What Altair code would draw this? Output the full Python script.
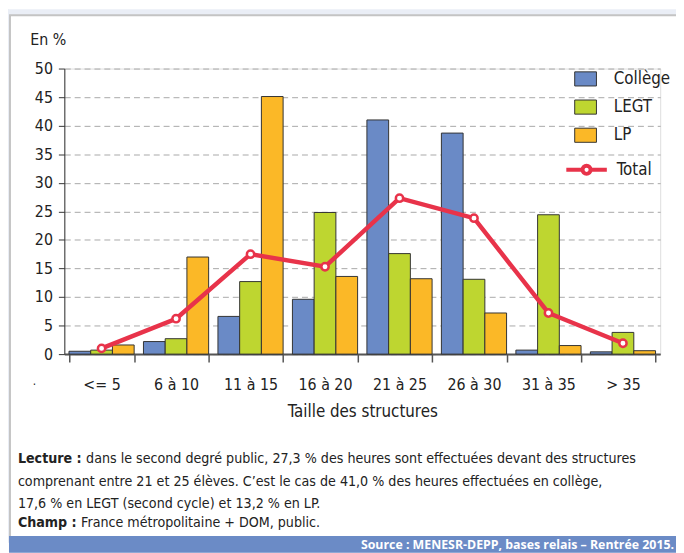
import altair as alt
import pandas as pd

categories = ["<= 5", "6 à 10", "11 à 15", "16 à 20", "21 à 25", "26 à 30", "31 à 35", "> 35"]
college = [0.5, 2.2, 6.6, 9.6, 41.0, 38.7, 0.7, 0.4]
legt = [0.7, 2.7, 12.7, 24.8, 17.6, 13.1, 24.4, 3.8]
lp = [1.6, 17.0, 45.1, 13.6, 13.2, 7.2, 1.5, 0.6]
total = [1.0, 6.2, 17.5, 15.3, 27.3, 23.8, 7.2, 1.9]
series = ["Collège", "LEGT", "LP"]
series_colors = ["#6a8ac6", "#bed630", "#fbb827"]
total_name = ["Total"]
total_color = ["#e8334a"]
y_ticks = list(range(0, 55, 5))

note_lines = [
    "comprenant entre 21 et 25 élèves. C’est le cas de 41,0 % des heures effectuées en collège,",
    "17,6 % en LEGT (second cycle) et 13,2 % en LP.",
]
lecture_head = "Lecture :"
lecture_text = "dans le second degré public, 27,3 % des heures sont effectuées devant des structures"
champ_head = "Champ :"
champ_text = "France métropolitaine + DOM, public."
source_text = "Source : MENESR-DEPP, bases relais – Rentrée 2015."

FONT = "Liberation Sans Narrow, DejaVu Sans Condensed, Roboto, sans-serif"
NOTE_SIZE = 14.3
OUTER = "#eaeef6"

rows = []
for i, c in enumerate(categories):
    for s, vals in zip(series, [college, legt, lp]):
        rows.append({"cat": c, "serie": s, "value": vals[i]})
bars_df = pd.DataFrame(rows)
total_df = pd.DataFrame({"cat": categories, "value": total, "name": total_name * len(categories)})

xscale = alt.Scale(domain=categories, paddingInner=0.125, paddingOuter=0.0625)
yscale = alt.Scale(domain=[0, 50], nice=False)

x_axis = alt.Axis(
    title="Taille des structures", tickBand="extent", tickSize=8, labelAngle=0,
    labelPadding=15, labelFontSize=16, labelColor="#222", labelFont=FONT,
    titleFont=FONT, titleFontSize=17, titleFontWeight="normal", titleColor="#222",
    titlePadding=11, domainColor="#555", domainWidth=2, tickColor="#555", tickWidth=1.5,
)
y_axis = alt.Axis(
    values=y_ticks, tickCount=11, title="En %", titleAngle=0, titleAlign="left",
    titleBaseline="middle", titleX=-35, titleY=-29, titleFont=FONT, titleFontSize=16,
    titleFontWeight="normal", titleColor="#222", labelFont=FONT, labelFontSize=16,
    labelColor="#222", labelPadding=6, labelOverlap=False, labelFlush=False,
    tickSize=6, tickColor="#333", domainColor="#333", grid=True, gridDash=[6, 4],
    gridColor="#a8a8a8", gridWidth=1,
)

def x_enc():
    return alt.X("cat:N", sort=categories, scale=xscale, axis=x_axis)

def y_enc():
    return alt.Y("value:Q", scale=yscale, axis=y_axis)

bars = alt.Chart(bars_df).mark_bar(stroke="#333", strokeWidth=1).encode(
    x=x_enc(),
    y=y_enc(),
    xOffset=alt.XOffset("serie:N", sort=series, scale=alt.Scale(domain=series, paddingInner=0)),
    fill=alt.Fill(
        "serie:N", sort=series,
        scale=alt.Scale(domain=series, range=series_colors),
        legend=alt.Legend(
            title=None, orient="none", legendX=516, legendY=-1, padding=0,
            symbolType="M-1,-0.65H1V0.65H-1Z", symbolSize=484, symbolStrokeColor="#333",
            symbolStrokeWidth=1, rowPadding=7.5, labelOffset=17, labelFont=FONT,
            labelFontSize=17, labelColor="#222",
        ),
    ),
)

line = alt.Chart(total_df).mark_line(strokeWidth=4.5).encode(
    x=x_enc(),
    y=y_enc(),
    stroke=alt.Stroke(
        "name:N",
        scale=alt.Scale(domain=total_name, range=total_color),
        legend=alt.Legend(
            title=None, orient="none", legendX=506, legendY=80, padding=0,
            symbolType="M-1,0H-0.2M0.2,0H1M-0.2,0A0.2,0.2 0 1,0 0.2,0A0.2,0.2 0 1,0 -0.2,0",
            symbolSize=1681, symbolStrokeWidth=4, labelOffset=8, labelFont=FONT,
            labelFontSize=17, labelColor="#222",
        ),
    ),
)

points = alt.Chart(total_df).mark_point(
    filled=True, fill="white", stroke=total_color[0], strokeWidth=2.5, size=55, opacity=1
).encode(
    x=x_enc(),
    y=y_enc(),
)

one = pd.DataFrame({"k": [0]})

def txt(s, x, y, weight="normal", size=NOTE_SIZE, color="#222", align="left", font=FONT):
    return alt.Chart(one).mark_text(
        text=s, align=align, baseline="middle", font=font, fontSize=size,
        fontWeight=weight, color=color,
    ).encode(x=alt.value(x), y=alt.value(y))

def box(x, x2, y, y2, **kw):
    return alt.Chart(one).mark_rect(**kw).encode(
        x=alt.value(x), x2=alt.value(x2), y=alt.value(y), y2=alt.value(y2)
    )

top_strip = box(-60, 625, -60, -54, fill=OUTER)
left_strip = box(-60, -56, -60, 480, fill=OUTER)
panel_border = box(-55, 625, -54, 480, fill="white", fillOpacity=0, stroke="#c4c4c4", strokeWidth=2)
source_bar = box(-56, 625, 473, 490, fill="#6b8bc6")

annotations = [
    txt(".", -32, 316, size=12),
    txt(lecture_head, -47, 395, weight="bold"),
    txt(lecture_text, 22, 395),
    txt(note_lines[0], -47, 418),
    txt(note_lines[1], -47, 441),
    txt(champ_head, -47, 460, weight="bold"),
    txt(champ_text, 17, 460),
    txt(source_text, 617, 482, weight="bold", size=12.5, color="white", align="right",
        font="Open Sans, sans-serif"),
]

chart = alt.layer(top_strip, left_strip, panel_border, source_bar, bars, line, points, *annotations).properties(
    width=603, height=289,
    autosize=alt.AutoSizeParams(type="none"),
    padding={"left": 57, "top": 58, "right": 16, "bottom": 198},
).configure_view(stroke=None).configure(background="white")

chart.save("out.html", embed_options={"renderer": "svg", "actions": False})
